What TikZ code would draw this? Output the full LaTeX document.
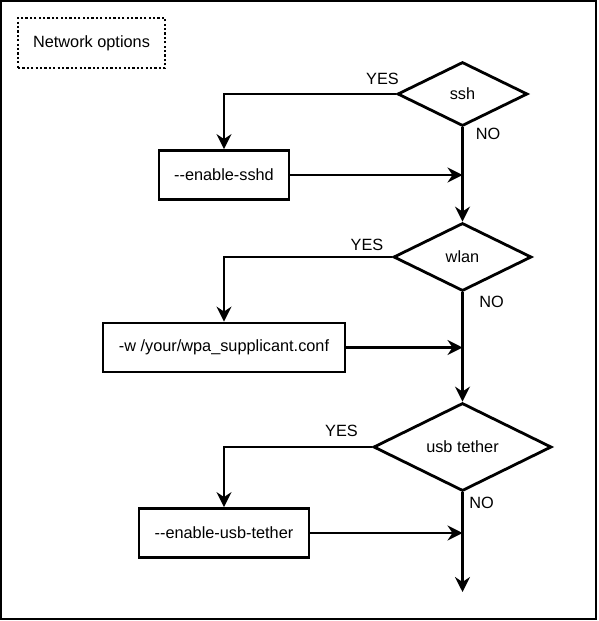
\documentclass[tikz,border=0pt]{standalone}
\usepackage{fontspec}
\setmainfont{Liberation Sans}
\usetikzlibrary{shapes.geometric,arrows.meta,positioning}
\tikzstyle{block} = [rectangle, draw, text centered, line width=2.8pt, minimum
height=49pt, inner sep=0pt]
\tikzstyle{decision} = [diamond, draw, text centered, line width=2.8pt, inner sep=0pt]
\tikzstyle{title} = [rectangle, draw, line width=2.8pt, dash pattern=on 2.2pt off 2.2pt,
minimum width=147pt, minimum height=50pt]
\tikzstyle{answer} = [inner sep=0pt]
\tikzstyle{line} = [draw, line width=2.8pt, -{Stealth[length=15pt,width=15pt,inset=5pt]}]
\tikzstyle{frame} = [draw, line width=2.8pt]

\begin{document}
\begin{tikzpicture}[x=1pt, y=-1pt, font=\fontsize{16.3}{19}\selectfont]

   \useasboundingbox (0,0) rectangle (598,621);
   \path[frame] (1,1) rectangle (596,619);

   \node[title] (opts) at (91.5,43) {Network options};

   % Decisions
   \node[decision, minimum width=130pt, minimum height=64pt] (ssh)  at (462.5,94)  {ssh};
   \node[decision, minimum width=138pt, minimum height=68pt] (wlan) at (462.5,257) {wlan};
   \node[decision, minimum width=178pt, minimum height=88pt] (usb)  at (462.5,447) {usb tether};

   % Options
   \node[block, minimum width=130pt] (sshd) at (224,175)   {-{}-enable-sshd};
   \node[block, minimum width=242pt] (wpa)  at (224,347.5) {-w /your/wpa\_supplicant.conf};
   \node[block, minimum width=170pt] (tether) at (224,533) {-{}-enable-usb-tether};

   \coordinate (stop) at (462.5,592);

   % Answers
   \node[answer] (yes1) at (382.5,79)  {YES};
   \node[answer] (no1)  at (488,134)   {NO};
   \node[answer] (yes2) at (367,244.5) {YES};
   \node[answer] (no2)  at (491.5,302) {NO};
   \node[answer] (yes3) at (341.5,430.5) {YES};
   \node[answer] (no3)  at (481.5,503) {NO};

   %% Lines

   \path[line] (ssh.west) -| (sshd.north);
   \path[line] (sshd.east) -- (sshd.east -| ssh.south);
   \path[line] (ssh.south) -- (wlan.north);

   \path[line] (wlan.west) -| (wpa.north);
   \path[line] (wpa.east) -- (wpa.east -| wlan.south);
   \path[line] (wlan.south) -- (usb.north);

   \path[line] (usb.west) -| (tether.north);
   \path[line] (tether.east) -- (tether.east -| usb.south);
   \path[line] (usb.south) -- (stop);

\end{tikzpicture}
\end{document}
